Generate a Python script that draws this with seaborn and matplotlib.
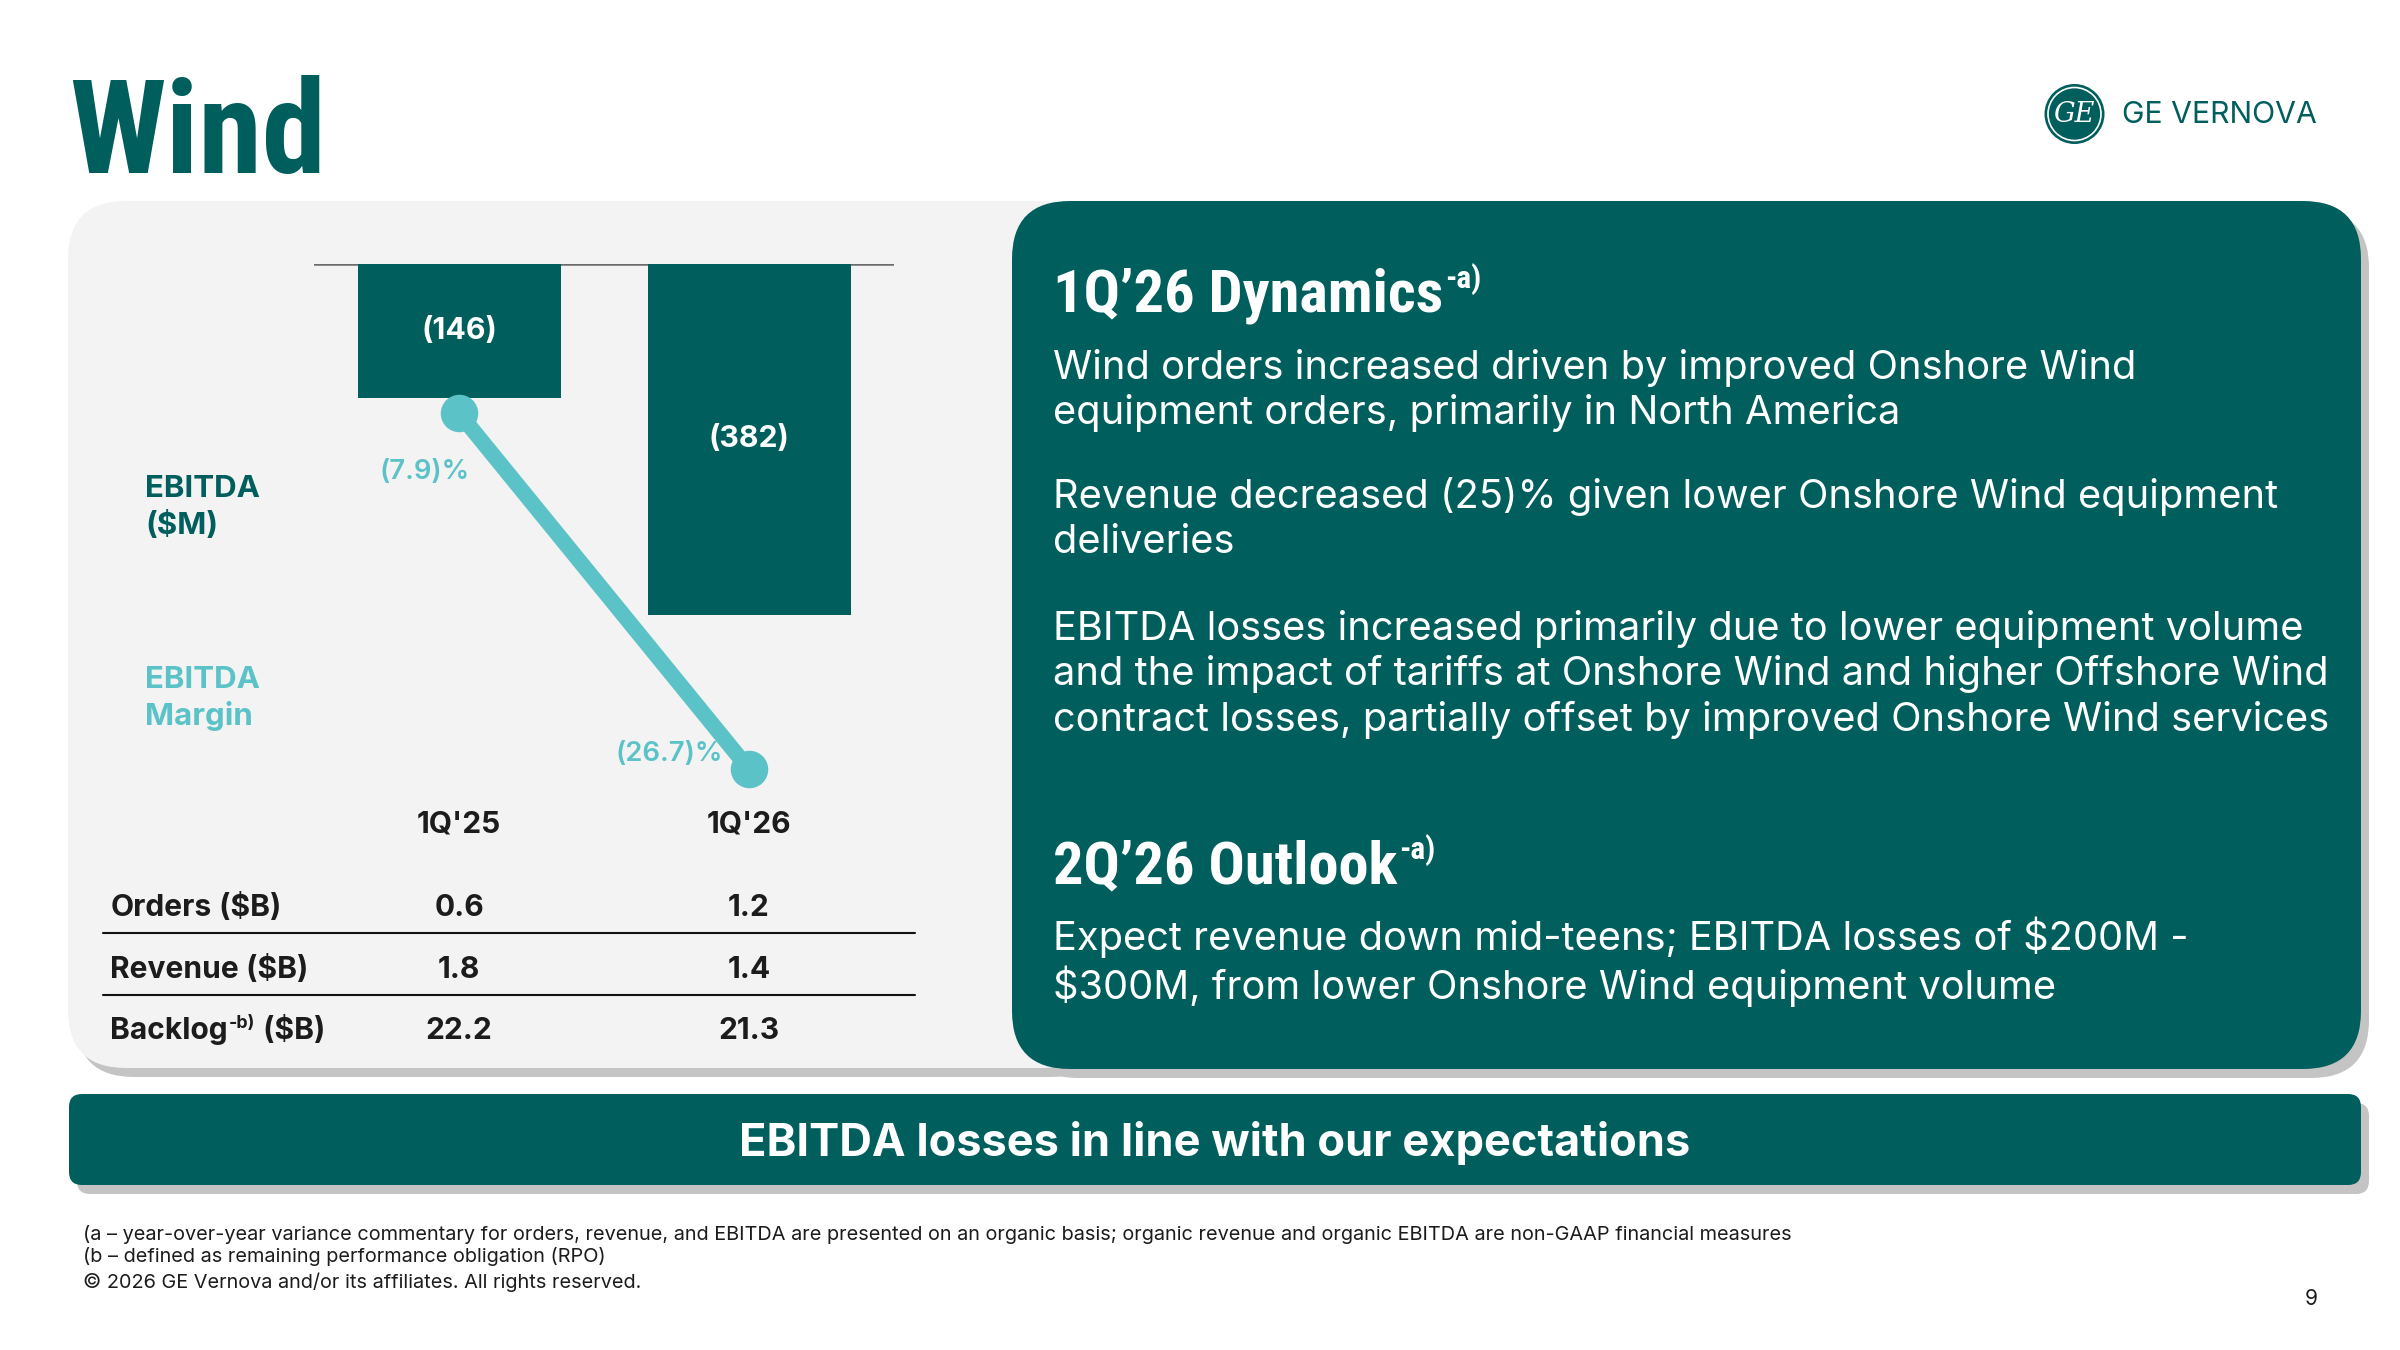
import matplotlib
matplotlib.use("Agg")
import matplotlib.pyplot as plt
import matplotlib.transforms as mtrans
from matplotlib.patches import FancyBboxPatch, Circle
import seaborn as sns

# chart data
quarters = ["1Q'25", "1Q'26"]
ebitda = [-146, -382]            # $M
margin = [-7.9, -26.7]           # %
orders = [0.6, 1.2]              # $B
revenue = [1.8, 1.4]
backlog = [22.2, 21.3]

dynamics = [
    ["Wind orders increased driven by improved Onshore Wind",
     "equipment orders, primarily in North America"],
    ["Revenue decreased (25)% given lower Onshore Wind equipment",
     "deliveries"],
    ["EBITDA losses increased primarily due to lower equipment volume",
     "and the impact of tariffs at Onshore Wind and higher Offshore Wind",
     "contract losses, partially offset by improved Onshore Wind services"],
]
outlook = ["Expect revenue down mid-teens; EBITDA losses of $200M -",
           "$300M, from lower Onshore Wind equipment volume"]
footnotes = [
    "(a \u2013 year-over-year variance commentary for orders, revenue, and EBITDA are presented on an organic basis; organic revenue and organic EBITDA are non-GAAP financial measures",
    "(b \u2013 defined as remaining performance obligation (RPO)",
    "\u00a9 2026 GE Vernova and/or its affiliates. All rights reserved.",
]

TEAL = "#005E5D"
LIGHT = "#5BC3C8"
GREY = "#F3F3F3"
SHADOW = "#C4C4C4"
INK = "#1C1C1C"
COND = dict(family=["Roboto Condensed", "Roboto", "DejaVu Sans"], fontweight="bold")

sns.set_theme(style="white")
plt.rcParams["font.family"] = ["Inter", "DejaVu Sans"]

fig = plt.figure(figsize=(16, 9), dpi=150)
bg = fig.add_axes([0, 0, 1, 1])
bg.set_xlim(0, 2400)
bg.set_ylim(1350, 0)
bg.axis("off")


def box(x0, y0, x1, y1, r, color, shadow=True):
    style = f"round,pad=0,rounding_size={r}"
    if shadow:
        bg.add_patch(FancyBboxPatch((x0 + 8, y0 + 9), x1 - x0, y1 - y0, boxstyle=style,
                                    fc=SHADOW, ec="none", zorder=0))
    bg.add_patch(FancyBboxPatch((x0, y0), x1 - x0, y1 - y0, boxstyle=style,
                                fc=color, ec="none", zorder=1))


box(68, 201, 1100, 1068, 58, GREY)
box(1012, 201, 2361, 1069, 58, TEAL)
box(69, 1094, 2361, 1185, 13, TEAL)

# title + logo
bg.text(69, 173, "Wind", fontsize=62, color=TEAL, va="baseline", **COND)
bg.add_patch(Circle((2074.5, 114), 30, fc=TEAL, ec="none", zorder=2))
bg.add_patch(Circle((2074.5, 114), 26.5, fc="none", ec="white", lw=0.8, zorder=3))
bg.text(2074.5, 115, "GE", family="DejaVu Serif", style="italic", fontsize=13, color="white",
        ha="center", va="center", zorder=4)
bg.text(2122, 123, "GE VERNOVA", fontsize=14.5, color=TEAL, va="baseline")

# ---- chart ----
ax = fig.add_axes([314 / 2400, 1 - 800 / 1350, 580 / 2400, 536.5 / 1350])
ax.set_facecolor("none")
sns.barplot(x=quarters, y=ebitda, color=TEAL, saturation=1, width=0.7, linewidth=0, ax=ax)
ax.axhline(0, color="#6B6B6B", lw=1.2, zorder=0)
for cont in ax.containers:
    ax.bar_label(cont, labels=[f"({abs(v)})" for v in ebitda], label_type="center",
                 color="white", fontsize=14.5, fontweight="bold")
ax.set_ylim(-583, 0)
ax.set_yticks([])
ax.set_xlabel("")
ax.set_ylabel("")
ax.tick_params(axis="x", length=0, pad=5, labelsize=14.4, labelcolor=INK)
for t in ax.get_xticklabels():
    t.set_fontweight("bold")
sns.despine(ax=ax, left=True, bottom=True)

ax2 = ax.twinx()
sns.lineplot(x=quarters, y=margin, ax=ax2, color=LIGHT, lw=7.5, marker="o",
             markersize=18, markeredgewidth=0, sort=False)
ax2.set_ylim(-28.33, 0)
ax2.axis("off")
offsets = [(-16.3, -28.3), (-38.2, 7.2)]
for i, (m, off) in enumerate(zip(margin, offsets)):
    ax2.annotate(f"({abs(m)})%", (i, m), xytext=off, textcoords="offset points",
                 ha="center", va="center", color=LIGHT, fontsize=13.2, fontweight="semibold")
ax.set_xlim(-0.5, 1.5)

bg.text(145, 497, "EBITDA", fontsize=15, fontweight="bold", color=TEAL, va="baseline")
bg.text(145, 534, "($M)", fontsize=15, fontweight="bold", color=TEAL, va="baseline")
bg.text(145, 688, "EBITDA", fontsize=15, fontweight="bold", color=LIGHT, va="baseline")
bg.text(145, 725, "Margin", fontsize=15, fontweight="bold", color=LIGHT, va="baseline")

# ---- table ----
col = mtrans.blended_transform_factory(ax.transData, bg.transData)
rows = [("Orders", orders, 916), ("Revenue", revenue, 978), ("Backlog", backlog, 1039)]
fig.canvas.draw()
rend = fig.canvas.get_renderer()
inv = bg.transData.inverted()


def right_edge(t):
    bb = t.get_window_extent(rend)
    return inv.transform((bb.x1, bb.y1))[0]


for name, vals, yb in rows:
    t = bg.text(110.5, yb, name, fontsize=14.4, fontweight="bold", color=INK, va="baseline")
    x = right_edge(t)
    if name == "Backlog":
        s = bg.text(x + 1, yb - 11, "-b)", fontsize=8.5, fontweight="bold", color=INK, va="baseline")
        x = right_edge(s)
    bg.text(x, yb, " ($B)", fontsize=14.4, fontweight="bold", color=INK, va="baseline")
    for i, v in enumerate(vals):
        bg.text(i, yb, f"{v:.1f}", transform=col, fontsize=14.4, fontweight="bold",
                color=INK, ha="center", va="baseline")
for yl in (933, 995):
    bg.plot([103, 915], [yl, yl], color="#111111", lw=1.0)

# ---- right panel ----
def heading(y, txt):
    h = bg.text(1053, y, txt, fontsize=29, color="white", va="baseline", zorder=5, **COND)
    x = right_edge(h)
    bg.text(x + 2, y - 24, "-a)", fontsize=15, color="white", va="baseline", zorder=5, **COND)


heading(312, "1Q\u201926 Dynamics")
heading(883, "2Q\u201926 Outlook")

line_y = [[379, 424], [508, 553], [640, 685, 731]]
for para, ys in zip(dynamics, line_y):
    for ln, yb in zip(para, ys):
        bg.text(1053, yb, ln, fontsize=19.1, color="white", va="baseline", zorder=5)
for ln, yb in zip(outlook, [950, 999]):
    bg.text(1053, yb, ln, fontsize=19.1, color="white", va="baseline", zorder=5)

bg.text(1215, 1156, "EBITDA losses in line with our expectations", fontsize=21.7,
        fontweight="bold", color="white", ha="center", va="baseline", zorder=5)

for ln, yb in zip(footnotes, [1240, 1262, 1288]):
    bg.text(83, yb, ln, fontsize=9.55, color=INK, va="baseline")
bg.text(2311, 1305, "9", fontsize=10, color=INK, ha="center", va="baseline")

fig.savefig("out.png", dpi=150)
